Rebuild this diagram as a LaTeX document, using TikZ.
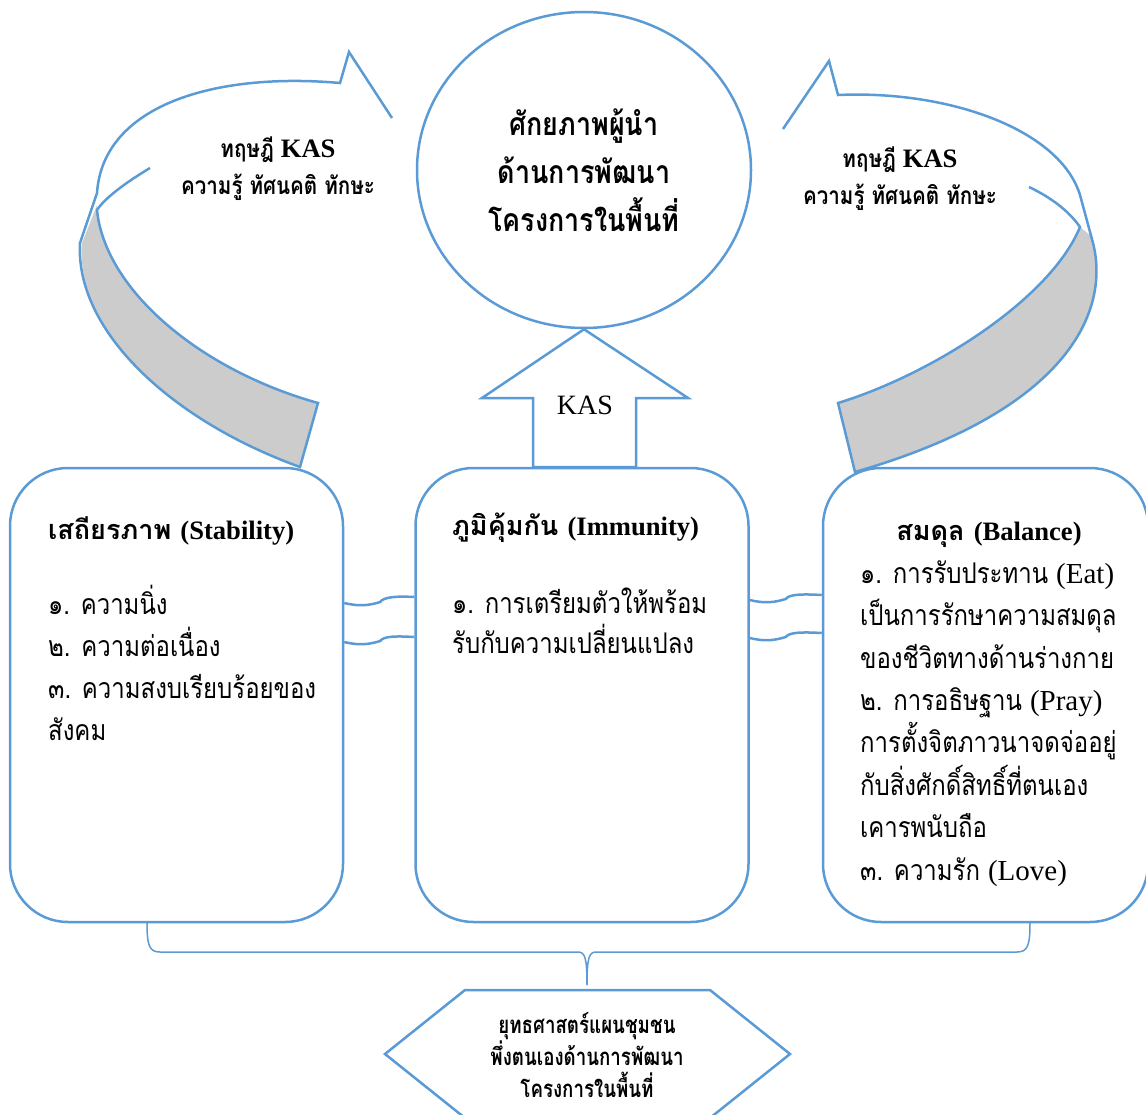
\documentclass[tikz,border=0pt]{standalone}
\usepackage{fontspec}
\setmainfont{Liberation Serif}
\newfontfamily\thai[Script=Thai]{Loma}
\newfontfamily\thain[Script=Thai,FakeStretch=0.84]{Loma}
\newfontfamily\thaic[Script=Thai,FakeStretch=0.78]{Loma}
\usetikzlibrary{shapes.geometric}
\definecolor{ob}{RGB}{91,155,213}
\definecolor{gb}{RGB}{204,204,204}
\newcommand{\lat}[1]{{\rmfamily\fontsize{29pt}{42pt}\selectfont #1}}
\newcommand{\latb}[1]{{\rmfamily\bfseries\fontsize{26.6pt}{42pt}\selectfont #1}}
\begin{document}
\begin{tikzpicture}[x=1pt,y=-1pt,
  ln/.style={draw=ob,line width=2.5pt,line join=miter},
  box/.style={ln,rounded corners=58pt,minimum width=333pt,minimum height=454pt,inner sep=0pt},
  conn/.style={draw=ob,line width=2.5pt},
  brace/.style={draw=ob,line width=1.5pt},
  body/.style={inner sep=0pt,anchor=base west,align=left,font=\thain\fontsize{28.5pt}{42pt}\selectfont},
  head/.style={inner sep=0pt,anchor=base west,font=\thai\bfseries\fontsize{27pt}{42pt}\selectfont},
  arct/.style={inner sep=0pt,anchor=base,align=center,font=\thain\bfseries\fontsize{24.5pt}{37pt}\selectfont}]
\useasboundingbox (0,0) rectangle (1146,1115);
\clip (0,0) rectangle (1146,1115);

% curved arrow left
\fill[gb] (97,205) -- (82,243) .. controls (75,330) and (170,420) .. (300,467) -- (318,403)
  .. controls (200,370) and (105,290) .. (97,210) -- cycle;
\draw[ln] (150,168) .. controls (125,183) and (105,198) .. (97,210)
  .. controls (105,290) and (200,370) .. (318,403) -- (300,467)
  .. controls (170,420) and (75,330) .. (80,243) -- (97,193)
  .. controls (103,105) and (215,72) .. (340,83) -- (349,52) -- (392,118);

% curved arrow right
\fill[gb] (1080,227) -- (1091,236) -- (1093,243) .. controls (1110,310) and (1070,410) .. (855,472)
  -- (838,403) .. controls (930,375) and (1050,300) .. (1080,227) -- cycle;
\draw[ln] (1029,187) .. controls (1050,197) and (1068,210) .. (1080,227)
  .. controls (1050,300) and (930,375) .. (838,403) -- (855,472)
  .. controls (1070,410) and (1110,310) .. (1093,243) -- (1080,195)
  .. controls (1060,130) and (950,90) .. (838,95) -- (829,61) -- (783,129);

\node[arct] (kl) at (278,195) {ทฤษฎี \latb{KAS}\\ความรู้ ทัศนคติ ทักษะ};
\node[arct] (kr) at (900,205) {ทฤษฎี \latb{KAS}\\ความรู้ ทัศนคติ ทักษะ};

% top circle
\node[ln,ellipse,minimum width=334pt,minimum height=316pt,inner sep=0pt] (T) at (584,170) {};
\node[inner sep=0pt,anchor=base,align=center,font=\thain\bfseries\fontsize{32pt}{48pt}\selectfont] (Tt) at (584,232)
  {ศักยภาพผู้นำ\\ด้านการพัฒนา\\โครงการในพื้นที่};

% boxes
\node[box] (L) at (176.5,695) {};
\node[box] (C) at (582,695) {};
\node[box,minimum width=325pt] (R) at (985.5,695) {};

% up arrow
\draw[ln,fill=white] (T.south) -- (688,398) -- (636,398) -- (636,467) -- (533,467) -- (533,398) -- (482,398) -- cycle;
\node[inner sep=0pt,anchor=base,font=\rmfamily\fontsize{28pt}{30pt}\selectfont] (kas) at (585,414) {KAS};

% box texts
\node[head] (Lh) at (48,539) {เสถียรภาพ \latb{(Stability)}};
\node[body] (Lb) at (48,740) {๑. ความนิ่ง\\๒. ความต่อเนื่อง\\๓. ความสงบเรียบร้อยของ\\สังคม};
\node[head] (Ch) at (452,535) {ภูมิคุ้มกัน \latb{(Immunity)}};
\node[body,font=\thain\fontsize{28.5pt}{40pt}\selectfont] (Cb) at (452,653) {๑. การเตรียมตัวให้พร้อม\\รับกับความเปลี่ยนแปลง};
\node[head,anchor=base] (Rh) at (989,540) {สมดุล \latb{(Balance)}};
\node[body,font=\thain\fontsize{28.5pt}{42.4pt}\selectfont] (Rb) at (860,880) {๑. การรับประทาน \lat{(Eat)}\\เป็นการรักษาความสมดุล\\ของชีวิตทางด้านร่างกาย\\๒. การอธิษฐาน \lat{(Pray)}\\การตั้งจิตภาวนาจดจ่ออยู่\\กับสิ่งศักดิ์สิทธิ์ที่ตนเอง\\เคารพนับถือ\\๓. ความรัก \lat{(Love)}};

% wavy connectors
\draw[conn] ([yshift=92pt]L.east) .. controls +(16,4) and +(-10,3) .. ++(36,-1) .. controls +(3,-5) and +(-18,-1) .. ([yshift=98pt]C.west);
\draw[conn] ([yshift=53pt]L.east) .. controls +(16,4) and +(-10,3) .. ++(36,-1) .. controls +(3,-5) and +(-18,-1) .. ([yshift=58pt]C.west);
\draw[conn] ([yshift=95pt]C.east) .. controls +(16,4) and +(-10,3) .. ++(36,-1) .. controls +(3,-5) and +(-18,-1) .. ([yshift=100pt]R.west);
\draw[conn] ([yshift=57pt]C.east) .. controls +(16,4) and +(-10,3) .. ++(36,-1) .. controls +(3,-5) and +(-18,-1) .. ([yshift=62pt]R.west);

% brace
\coordinate (b1) at (147,922);
\coordinate (b2) at (587,985);
\coordinate (b3) at (1030,922);
\draw[brace] (b1) .. controls (147,945) and (149,952) .. (160,952) -- (578,952) .. controls (585,952) and (587,958) .. (b2);
\draw[brace] (b2) .. controls (587,958) and (589,952) .. (596,952) -- (1017,952) .. controls (1028,952) and (1030,945) .. (b3);

% hexagon
\coordinate (h1) at (465,990);
\coordinate (h2) at (710,990);
\coordinate (h3) at (790,1054);
\coordinate (h4) at (710,1118);
\coordinate (h5) at (465,1118);
\coordinate (h6) at (385,1054);
\draw[ln] (h1) -- (h2) -- (h3) -- (h4) -- (h5) -- (h6) -- cycle;
\node[inner sep=0pt,anchor=base,align=center,font=\thaic\bfseries\fontsize{24pt}{32pt}\selectfont] (Ht) at (587,1097)
  {ยุทธศาสตร์แผนชุมชน\\พึ่งตนเองด้านการพัฒนา\\โครงการในพื้นที่};
\end{tikzpicture}
\end{document}
